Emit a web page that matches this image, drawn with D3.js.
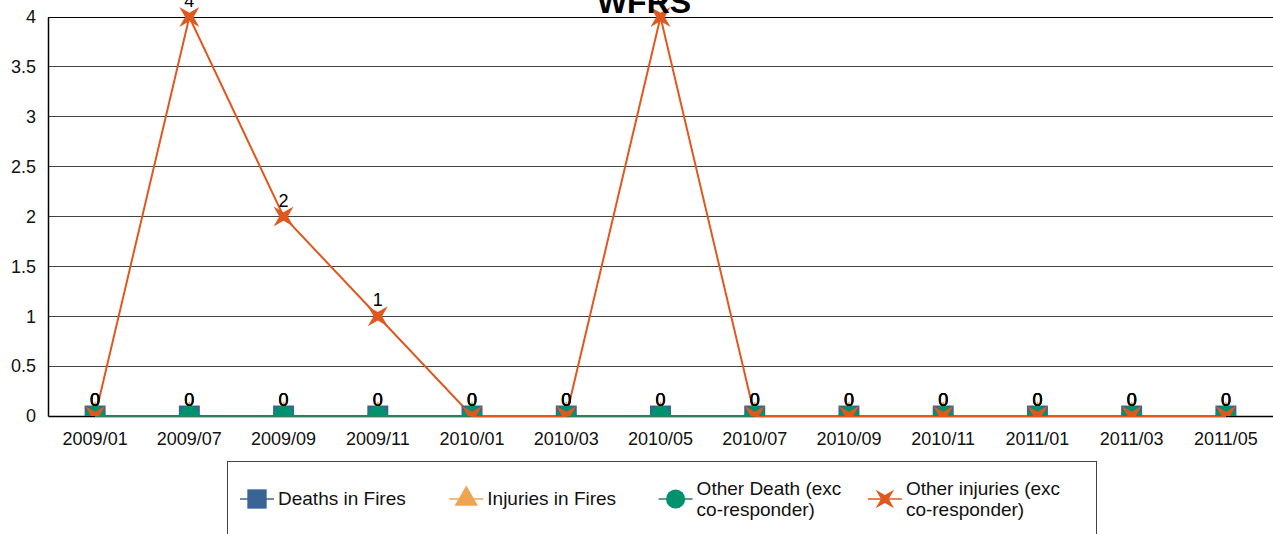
<!DOCTYPE html>
<html>
<head>
<meta charset="utf-8">
<script src="https://cdn.jsdelivr.net/npm/d3@7"></script>
<style>
  body { margin: 0; background: #fff; }
  svg { display: block; font-family: "Liberation Sans", Arial, sans-serif; }
</style>
</head>
<body>
<div id="chart"></div>
<script>
const width = 1273;
const height = 534;

// data
const months = ["2009/01", "2009/07", "2009/09", "2009/11", "2010/01", "2010/03", "2010/05",
  "2010/07", "2010/09", "2010/11", "2011/01", "2011/03", "2011/05"];
const deathsInFires = [0, 0, 0, 0, 0, 0, 0, 0, 0, 0, 0, 0, 0];
const injuriesInFires = [0, 0, 0, 0, 0, 0, 0, 0, 0, 0, 0, 0, 0];
const otherDeath = [0, 0, 0, 0, 0, 0, 0, 0, 0, 0, 0, 0, 0];
const otherInjuries = [0, 4, 2, 1, 0, 0, 4, 0, 0, 0, 0, 0, 0];
const yTicks = [0, 0.5, 1, 1.5, 2, 2.5, 3, 3.5, 4];

const margin = { top: 17, right: 0, bottom: 118, left: 48 };
const innerW = width - margin.left - margin.right;
const innerH = height - margin.top - margin.bottom;

// 4 point star with points on the diagonals
const star4 = {
  draw(ctx, size) {
    const r = Math.sqrt(size) * 0.78, ri = r * 0.3;
    for (let i = 0; i < 8; i++) {
      const a = Math.PI / 4 + i * Math.PI / 4;
      const rr = i % 2 === 0 ? r : ri;
      const px = rr * Math.cos(a), py = rr * Math.sin(a);
      if (i === 0) ctx.moveTo(px, py); else ctx.lineTo(px, py);
    }
    ctx.closePath();
  }
};

const series = [
  { name: ["Deaths in Fires"], values: deathsInFires, line: "#3a6496", fill: "#3a6496", symbol: d3.symbolSquare, size: 440 },
  { name: ["Injuries in Fires"], values: injuriesInFires, line: "#f0a452", fill: "#f0a452", symbol: d3.symbolTriangle, size: 280 },
  { name: ["Other Death (exc", "co-responder)"], values: otherDeath, line: "#2f7d5c", fill: "#00916e", symbol: d3.symbolCircle, size: 340 },
  { name: ["Other injuries (exc", "co-responder)"], values: otherInjuries, line: "#e0581e", fill: "#e0581e", symbol: star4, size: 330 }
];

const svg = d3.select("#chart").append("svg")
  .attr("width", width)
  .attr("height", height);

const g = svg.append("g").attr("transform", `translate(${margin.left},${margin.top})`);

const x = d3.scaleBand().domain(months).range([0, innerW]);
const y = d3.scaleLinear().domain([0, 4]).range([innerH, 0]);

svg.append("defs").append("clipPath").attr("id", "plotclip")
  .append("rect").attr("x", -10).attr("y", -60).attr("width", innerW + 20).attr("height", innerH + 60);

// gridlines
g.append("g").selectAll("line")
  .data(yTicks.filter(d => d > 0))
  .join("line")
  .attr("x1", 0).attr("x2", innerW)
  .attr("y1", d => y(d)).attr("y2", d => y(d))
  .attr("stroke", d => d === 4 ? "#000" : "#444")
  .attr("stroke-width", 1)
  .attr("shape-rendering", "crispEdges");

// y axis
const yAxis = g.append("g").call(d3.axisLeft(y).tickValues(yTicks).tickSize(0).tickPadding(12).tickFormat(d3.format("")));
yAxis.select(".domain").attr("stroke", "#000").attr("stroke-width", 1.5);
yAxis.selectAll("text").attr("font-size", 18).attr("fill", "#111").attr("font-family", "Liberation Sans, Arial, sans-serif");

// x axis
const xAxis = g.append("g").attr("transform", `translate(0,${innerH})`)
  .call(d3.axisBottom(x).tickSize(0).tickPadding(16));
xAxis.select(".domain").attr("stroke", "#000").attr("stroke-width", 1.5);
xAxis.selectAll("text").attr("font-size", 18).attr("fill", "#111").attr("font-family", "Liberation Sans, Arial, sans-serif");

const cx = d => x(d) + x.bandwidth() / 2;

// lines
const line = d3.line().x((d, i) => cx(months[i])).y(d => y(d));
series.forEach(s => {
  g.append("path")
    .datum(s.values)
    .attr("fill", "none")
    .attr("stroke", s.line)
    .attr("stroke-width", 2)
    .attr("d", line);
});

// markers
const marks = g.append("g").attr("clip-path", "url(#plotclip)");
series.forEach(s => {
  marks.append("g").selectAll("path")
    .data(s.values)
    .join("path")
    .attr("transform", (d, i) => `translate(${cx(months[i])},${y(d)})`)
    .attr("d", d3.symbol().type(s.symbol).size(s.size))
    .attr("fill", s.fill);
});

// data labels
series.forEach(s => {
  g.append("g").selectAll("text")
    .data(s.values)
    .join("text")
    .attr("x", (d, i) => cx(months[i]))
    .attr("y", d => y(d) - 10)
    .attr("text-anchor", "middle")
    .attr("font-size", 18)
    .attr("fill", "#000")
    .text(d => d);
});

// title
svg.append("text")
  .attr("x", 644)
  .attr("y", 13)
  .attr("text-anchor", "middle")
  .attr("font-size", 32)
  .attr("font-weight", "bold")
  .text("WFRS");

// legend
const legend = svg.append("g");
legend.append("rect")
  .attr("x", 227.5).attr("y", 461.5)
  .attr("width", 869).attr("height", 100)
  .attr("fill", "none").attr("stroke", "#444").attr("stroke-width", 1);

series.forEach((s, i) => {
  const lx = 240 + i * 209.3;
  const ly = 499;
  const item = legend.append("g").attr("transform", `translate(${lx},${ly})`);
  item.append("line").attr("x1", 0).attr("x2", 34).attr("y1", 0).attr("y2", 0)
    .attr("stroke", s.line).attr("stroke-width", 1.5);
  item.append("path").attr("transform", "translate(17,0)")
    .attr("d", d3.symbol().type(s.symbol).size(s.size * 0.85))
    .attr("fill", s.fill);
  const t = item.append("text").attr("x", 38).attr("font-size", 19).attr("fill", "#111");
  const n = s.name.length;
  s.name.forEach((ln, k) => {
    t.append("tspan").attr("x", 38)
      .attr("y", (k - (n - 1) / 2) * 21 + 6)
      .text(ln);
  });
});
</script>
</body>
</html>
